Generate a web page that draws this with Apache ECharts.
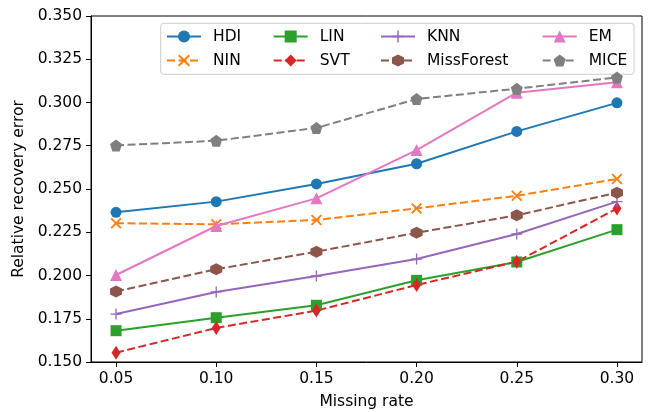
<!DOCTYPE html>
<html><head><meta charset="utf-8">
<script src="https://cdn.jsdelivr.net/npm/echarts@6/dist/echarts.min.js"></script>
<style>html,body{margin:0;padding:0;background:#fff}#c{width:650px;height:412px}</style>
</head><body><div id="c"></div>
<script>
const missingRates = [0.05, 0.10, 0.15, 0.20, 0.25, 0.30];
const xTicks = [0.05, 0.10, 0.15, 0.20, 0.25, 0.30];
const HDI = [0.2365, 0.2427, 0.2529, 0.2646, 0.2833, 0.2998];
const NIN = [0.2302, 0.2296, 0.2321, 0.2388, 0.2461, 0.2558];
const LIN = [0.1681, 0.1756, 0.1828, 0.1972, 0.2078, 0.2265];
const SVT = [0.1554, 0.1697, 0.1797, 0.1945, 0.2080, 0.2387];
const KNN = [0.1777, 0.1905, 0.1997, 0.2095, 0.2240, 0.2427];
const MissForest = [0.1907, 0.2036, 0.2138, 0.2247, 0.2348, 0.2479];
const EM = [0.2003, 0.2286, 0.2446, 0.2725, 0.3057, 0.3117];
const MICE = [0.2752, 0.2779, 0.2853, 0.3020, 0.3080, 0.3145];

const FONT = 'DejaVu Sans';
const FS = 15.5;
const symX = 'path://M0,1.2 L1.2,0 L5,3.8 L8.8,0 L10,1.2 L6.2,5 L10,8.8 L8.8,10 L5,6.2 L1.2,10 L0,8.8 L3.8,5 Z';
const symPlus = 'path://M4.4,0 H5.6 V4.4 H10 V5.6 H5.6 V10 H4.4 V5.6 H0 V4.4 H4.4 Z';
const symHex = 'path://M5,0 L9.33,2.5 L9.33,7.5 L5,10 L0.67,7.5 L0.67,2.5 Z';
const symPent = 'path://M5,0 L9.76,3.45 L7.94,9.05 L2.06,9.05 L0.24,3.45 Z';
const DASH = [8, 3.5];

const defs = [
  {name:'HDI', data:HDI, color:'#1f77b4', dash:'solid', symbol:'circle', size:11},
  {name:'NIN', data:NIN, color:'#ff7f0e', dash:DASH, symbol:symX, size:11},
  {name:'LIN', data:LIN, color:'#2ca02c', dash:'solid', symbol:'rect', size:11},
  {name:'SVT', data:SVT, color:'#d62728', dash:DASH, symbol:'diamond', size:[9,14]},
  {name:'KNN', data:KNN, color:'#9467bd', dash:'solid', symbol:symPlus, size:11},
  {name:'MissForest', data:MissForest, color:'#8c564b', dash:DASH, symbol:symHex, size:12},
  {name:'EM', data:EM, color:'#e377c2', dash:'solid', symbol:'triangle', size:12},
  {name:'MICE', data:MICE, color:'#7f7f7f', dash:DASH, symbol:symPent, size:12}
];

const series = defs.map(d => ({
  name: d.name, type: 'line',
  data: missingRates.map((x, i) => [x, d.data[i]]),
  symbol: d.symbol, symbolSize: d.size, showSymbol: true,
  itemStyle: {color: d.color},
  lineStyle: {color: d.color, width: 2, type: d.dash},
  animation: false
}));

const legendCols = [['HDI','NIN'],['LIN','SVT'],['KNN','MissForest'],['EM','MICE']];
const legendLeft = [166, 272.7, 380, 541.7];
const legends = legendCols.map((names, i) => ({
  orient: 'vertical', left: legendLeft[i], top: 28.5, padding: 0,
  itemWidth: 34, itemHeight: 15, itemGap: 8, selectedMode: false,
  data: names,
  textStyle: {fontFamily: FONT, fontSize: FS, color: '#000', padding: [0,0,0,7]}
}));

const chart = echarts.init(document.getElementById('c'), null, {renderer: 'canvas'});
chart.setOption({
  animation: false,
  backgroundColor: '#fff',
  grid: {left: 91, right: 8, top: 16, bottom: 50, outerBoundsMode: 'none', containLabel: false,
    show: true, borderColor: '#000', borderWidth: 1, backgroundColor: 'transparent'},
  legend: legends,
  graphic: [{type: 'rect', z: 3, shape: {x: 160.7, y: 23.3, width: 473.3, height: 51, r: 3},
    style: {fill: 'rgba(255,255,255,0.8)', stroke: '#cccccc', lineWidth: 1}}],
  xAxis: {
    type: 'value', min: 0.0375, max: 0.3125,
    name: 'Missing rate', nameLocation: 'middle', nameGap: 32,
    nameTextStyle: {fontFamily: FONT, fontSize: FS, color: '#000'},
    axisLine: {show: true, lineStyle: {color: '#000', width: 1}},
    axisTick: {show: true, length: 5, customValues: xTicks, lineStyle: {color: '#000'}},
    axisLabel: {customValues: xTicks, margin: 9, fontFamily: FONT, fontSize: FS, color: '#000', formatter: v => v.toFixed(2)},
    splitLine: {show: false}
  },
  yAxis: {
    type: 'value', min: 0.15, max: 0.35, interval: 0.025,
    name: 'Relative recovery error', nameLocation: 'middle', nameGap: 56, nameRotate: 90,
    nameTextStyle: {fontFamily: FONT, fontSize: FS, color: '#000'},
    axisLine: {show: true, lineStyle: {color: '#000', width: 1}},
    axisTick: {show: true, length: 5, lineStyle: {color: '#000'}},
    axisLabel: {margin: 9, fontFamily: FONT, fontSize: FS, color: '#000', formatter: v => v.toFixed(3)},
    splitLine: {show: false}
  },
  series: series
});
</script></body></html>
